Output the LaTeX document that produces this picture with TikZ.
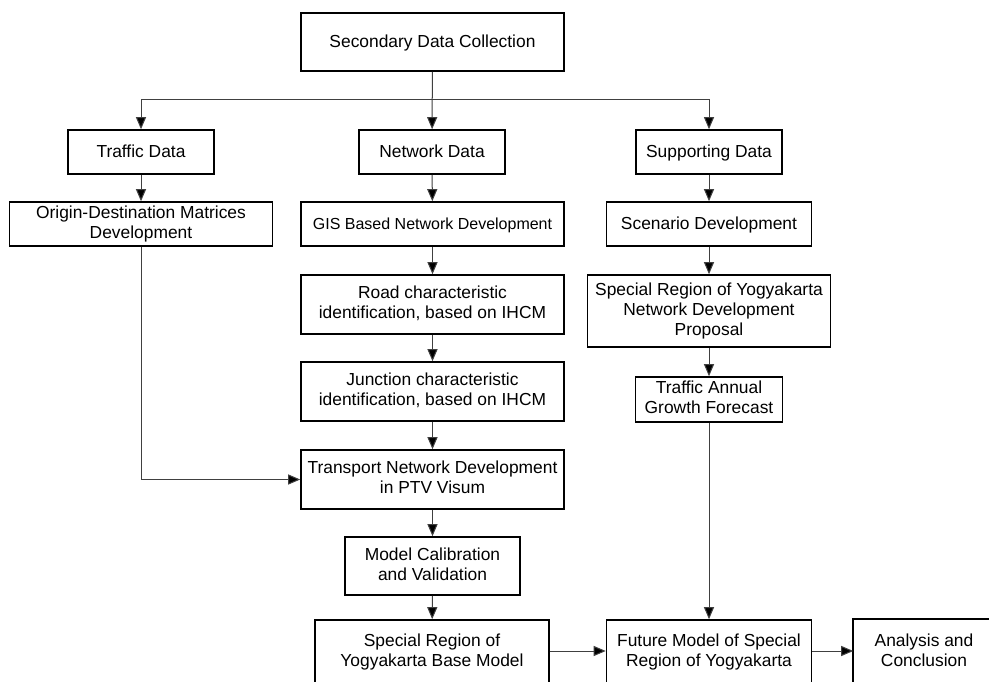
\documentclass[tikz,border=0pt]{standalone}
\usepackage{fontspec}
\setmainfont{Liberation Sans}
\usetikzlibrary{arrows.meta}
\newcommand\lnstrut{\rule[-3.8pt]{0pt}{19.5pt}}
\tikzset{
  box/.style={draw=black, line width=1.6pt, fill=white, align=center, inner sep=0pt,
    font=\fontsize{17.4}{20}\selectfont,
    execute at begin node=\lnstrut, execute at end node=\lnstrut},
  smallfont/.style={font=\fontsize{16}{20}\selectfont},
  conn/.style={draw=black!75, line width=1pt, -{Triangle[length=12pt,width=10pt,fill=black]}},
  border/.style={draw=black, line width=1.6pt}
}
\begin{document}
\begin{tikzpicture}[x=1pt,y=-1pt]
\useasboundingbox (0,0) rectangle (989,682);
\clip (0,0) rectangle (989,682);
\fill[white] (0,0) rectangle (989,682);
% nodes
\node[box, minimum width=263pt, minimum height=58pt] (sdc) at (432.5,42) {Secondary Data Collection};
\node[box, minimum width=146pt, minimum height=44pt] (td) at (141,152) {Traffic Data};
\node[box, minimum width=146pt, minimum height=44pt] (nd) at (432,152) {Network Data};
\node[box, minimum width=146pt, minimum height=44pt] (sd) at (709,152) {Supporting Data};
\node[box, minimum width=263pt, minimum height=44pt] (od) at (141,224) {Origin-Destination Matrices\\Development};
\node[box, smallfont, minimum width=263pt, minimum height=44pt] (gis) at (432.5,224) {GIS Based Network Development};
\node[box, minimum width=205pt, minimum height=44pt] (sc) at (709,224) {Scenario Development};
\node[box, minimum width=263pt, minimum height=59pt] (road) at (432.5,304.5) {Road characteristic\\identification, based on IHCM};
\node[box, minimum width=263pt, minimum height=59pt] (junc) at (432.5,391.5) {Junction characteristic\\identification, based on IHCM};
\node[box, minimum width=263pt, minimum height=59pt] (trans) at (432.5,479.5) {Transport Network Development\\in PTV Visum};
\node[box, minimum width=175pt, minimum height=58pt] (cal) at (432.5,566) {Model Calibration\\and Validation};
\node[box, minimum width=234pt, minimum height=64pt] (base) at (432,652) {Special Region of\\Yogyakarta Base Model};
\node[box, minimum width=243pt, minimum height=72pt] (spec) at (709,311) {Special Region of Yogyakarta\\Network Development\\Proposal};
\node[box, minimum width=147pt, minimum height=45pt] (tag) at (709,399.5) {Traffic Annual\\Growth Forecast};
\node[box, minimum width=205pt, minimum height=64pt] (fut) at (709,652) {Future Model of Special\\Region of Yogyakarta};
\node[box, draw=none, minimum width=140pt, minimum height=64pt] (ana) at (924,652) {Analysis and\\Conclusion};
\draw[border] (ana.south west) -- (ana.north west) -- ([xshift=20pt]ana.north east);
% connectors
\coordinate (br) at (432.5,100);
\draw[conn] (sdc) -- (nd);
\draw[conn] (br) -| (td);
\draw[conn] (br) -| (sd);
\draw[conn] (td) -- (od);
\draw[conn] (nd) -- (gis);
\draw[conn] (sd) -- (sc);
\draw[conn] (gis) -- (road);
\draw[conn] (road) -- (junc);
\draw[conn] (junc) -- (trans);
\draw[conn] (od.south) |- (trans.west);
\draw[conn] (trans) -- (cal);
\draw[conn] (cal) -- (base);
\draw[conn] (sc) -- (spec);
\draw[conn] (spec) -- (tag);
\draw[conn] (tag) -- (fut);
\draw[conn] (base.east |- 0,651) -- (fut.west |- 0,651);
\draw[conn] (fut.east |- 0,651) -- (ana.west |- 0,651);
\end{tikzpicture}
\end{document}
